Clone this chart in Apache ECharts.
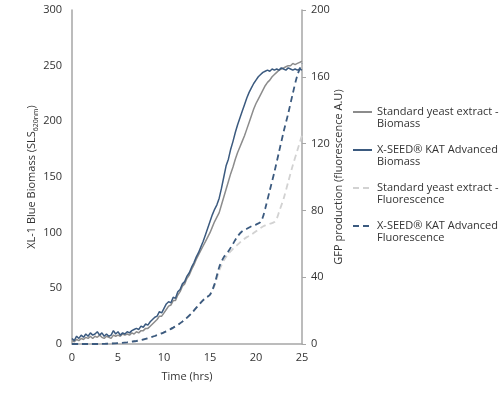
<!DOCTYPE html>
<html>
<head>
<meta charset="utf-8">
<script src="https://cdn.jsdelivr.net/npm/echarts@6/dist/echarts.min.js"></script>
<style>html,body{margin:0;padding:0;background:#fff}#c{width:500px;height:398px}</style>
</head>
<body>
<div id="c"></div>
<script>
// ---- data ----
var seriesNames = [
  'Standard yeast extract -\nBiomass',
  'X-SEED\u00AE KAT Advanced -\nBiomass',
  'Standard yeast extract -\nFluorescence',
  'X-SEED\u00AE KAT Advanced -\nFluorescence'
];
var xTicks = [0, 5, 10, 15, 20, 25];
var leftTicks = [0, 50, 100, 150, 200, 250, 300];
var rightTicks = [0, 40, 80, 120, 160, 200];

// biomass sampled every 0.25 h from 0 to 25 h
var biomassTime = [];
for (var i = 0; i <= 100; i++) biomassTime.push(i / 4);
var stdBiomass = [
  3,2,4,3, 5,4,6,5, 7,5,7,6, 8,6,5,7, 6,5,8,7,
  8,7,9,8, 9,8,10,9, 11,10,12,12, 14,14,16,18, 20,22,25,25,
  28,31,34,35, 39,39,44,47, 52,54,59,62, 67,71,76,80, 84,88,92,96,
  100,105,110,114, 118,125,132,139, 146,153,159,166, 172,177,182,187, 193,199,205,211,
  216,220,224,228, 232,235,237,240, 242,244,246,247, 248,249,250,250, 252,251,252,253,
  254
];
var xseedBiomass = [
  5,3,7,5, 8,6,9,7, 10,8,9,11, 8,10,7,9, 7,8,12,9,
  11,8,10,9, 11,10,12,13, 14,13,16,15, 18,17,20,22, 24,25,29,28,
  32,36,38,37, 42,41,47,49, 54,56,61,64, 69,73,78,82, 87,92,98,104,
  110,116,121,125, 131,140,150,160, 166,175,182,190, 197,203,209,215, 221,226,230,234,
  237,240,242,244, 245,246,245,247, 246,247,246,248, 247,246,248,247, 246,247,246,247,
  246
];

var xseedFluoTime = [0,1,2,3,4,5,6,7,8,9,10,11,12,13,14,14.5,15,15.5,16,16.5,17,17.5,18,18.5,19,19.5,20,20.5,20.75,21,21.5,22,22.5,23,23.5,24,24.5,25];
var xseedFluo     = [0,0,0,0,0.2,0.5,1,1.8,3,4.8,7,9.8,13.4,18.5,24.8,27.5,29.5,36,46,52,55.5,60,64.5,67.5,69,70.5,71.5,73,76,81,92,103,115,127,138,150,161,168];

var stdFluoTime = [0,1,2,3,4,5,6,7,8,9,10,11,12,13,14,14.5,15,15.5,16,16.5,17,17.5,18,18.5,19,19.5,20,20.5,21,21.5,22,22.25,22.5,23,23.5,24,24.5,25];
var stdFluo     = [0,0,0,0,0.2,0.5,1,1.8,3,4.8,7,9.8,13.4,18.5,24.8,27.5,29.5,35,44,50,54,57,59.5,62,64,65.5,67.5,69.5,71,72,73,75,79,87,97,107,116,125];

function pairs(xs, ys) { return xs.map(function (x, k) { return [x, ys[k]]; }); }

var FONT = '"Open Sans", sans-serif';
var TXT = '#333333';
var AX = '#a6a6a6';
var BLUE = '#3b5a7f';

var chart = echarts.init(document.getElementById('c'), null, {renderer: 'canvas'});
chart.setOption({
  animation: false,
  backgroundColor: '#fff',
  textStyle: {fontFamily: FONT},
  grid: {left: 72, right: 198, top: 10, bottom: 54},
  legend: {
    orient: 'vertical',
    left: 352,
    top: 94,
    padding: 0,
    itemGap: 2,
    itemWidth: 19,
    itemHeight: 12,
    data: seriesNames,
    itemStyle: {opacity: 0},
    formatter: function (n) { return '\n' + n; },
    textStyle: {fontFamily: FONT, fontSize: 11, color: TXT, lineHeight: 12}
  },
  xAxis: {
    type: 'value', min: xTicks[0], max: xTicks[xTicks.length - 1], interval: 5,
    name: 'Time (hrs)', nameLocation: 'middle', nameGap: 27,
    nameTextStyle: {fontFamily: FONT, fontSize: 11, color: TXT},
    axisLine: {show: true, lineStyle: {color: AX, width: 1.5}},
    axisTick: {show: false},
    splitLine: {show: false},
    axisLabel: {fontFamily: FONT, fontSize: 11, color: TXT, margin: 8}
  },
  yAxis: [{
    type: 'value', min: leftTicks[0], max: leftTicks[leftTicks.length - 1], interval: 50,
    position: 'left',
    name: '{a|XL-1 Blue Biomass (SLS}{s|620nm}{a|)}',
    nameLocation: 'middle', nameGap: 28, nameRotate: 90,
    nameTextStyle: {fontFamily: FONT, fontSize: 11, color: TXT,
      rich: {a: {fontFamily: FONT, fontSize: 11, color: TXT, lineHeight: 14},
             s: {fontFamily: FONT, fontSize: 7, color: TXT, lineHeight: 14, verticalAlign: 'bottom'}}},
    axisLine: {show: true, lineStyle: {color: AX, width: 1.5}},
    axisTick: {show: false},
    splitLine: {show: false},
    axisLabel: {fontFamily: FONT, fontSize: 11, color: TXT, margin: 10}
  }, {
    type: 'value', min: rightTicks[0], max: rightTicks[rightTicks.length - 1], interval: 40,
    position: 'right',
    name: 'GFP production (fluorescence A.U)',
    nameLocation: 'middle', nameGap: 30, nameRotate: 90,
    nameTextStyle: {fontFamily: FONT, fontSize: 11, color: TXT},
    axisLine: {show: true, lineStyle: {color: AX, width: 1.5}},
    axisTick: {show: true, inside: false, length: 4, lineStyle: {color: AX}},
    splitLine: {show: false},
    axisLabel: {fontFamily: FONT, fontSize: 11, color: TXT, margin: 9}
  }],
  series: [{
    name: seriesNames[0], type: 'line', yAxisIndex: 0, symbol: 'none', smooth: false,
    data: pairs(biomassTime, stdBiomass),
    itemStyle: {color: '#8c8c8c'},
    lineStyle: {color: '#8c8c8c', width: 1.5}
  }, {
    name: seriesNames[1], type: 'line', yAxisIndex: 0, symbol: 'none',
    data: pairs(biomassTime, xseedBiomass),
    itemStyle: {color: BLUE},
    lineStyle: {color: BLUE, width: 1.5}
  }, {
    name: seriesNames[2], type: 'line', yAxisIndex: 1, symbol: 'none', smooth: 0.3,
    data: pairs(stdFluoTime, stdFluo),
    itemStyle: {color: '#d2d2d2'},
    lineStyle: {color: '#d2d2d2', width: 1.8, type: [6, 4]}
  }, {
    name: seriesNames[3], type: 'line', yAxisIndex: 1, symbol: 'none', smooth: 0.3,
    data: pairs(xseedFluoTime, xseedFluo),
    itemStyle: {color: BLUE},
    lineStyle: {color: BLUE, width: 1.8, type: [6, 4]}
  }]
});
</script>
</body>
</html>
